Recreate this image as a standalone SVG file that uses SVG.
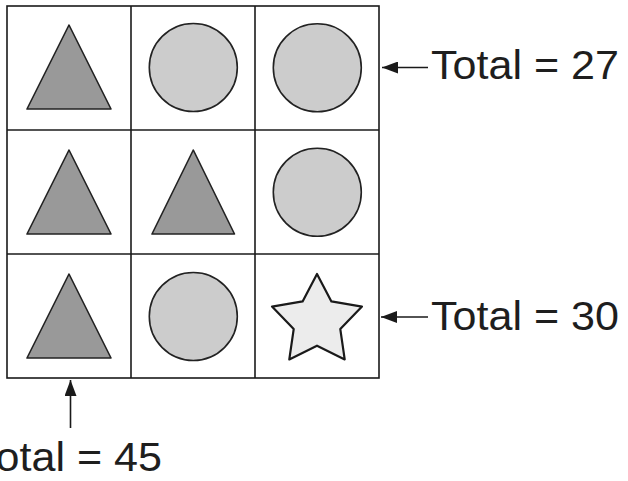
<svg xmlns="http://www.w3.org/2000/svg" width="628" height="481" viewBox="0 0 628 481">
<style>
.grid{fill:none;stroke:#1a1a1a;stroke-width:1.6}
.tri{fill:#999999;stroke:#222;stroke-width:1.6;stroke-linejoin:round}
.circ{fill:#cccccc;stroke:#222;stroke-width:1.6}
.star{fill:#ececec;stroke:#1a1a1a;stroke-width:2.2;stroke-linejoin:round}
.conn{stroke:#1a1a1a;stroke-width:1.6;fill:none}
.lbl{font-family:"Liberation Sans",Arial,sans-serif;font-size:41px;fill:#1e1e1e}
</style>
<defs>
<marker id="ah" markerWidth="16" markerHeight="12" refX="16" refY="6" orient="auto" markerUnits="userSpaceOnUse">
<path d="M0,0 L16,6 L0,12 Z" fill="#1a1a1a"/>
</marker>
</defs>
<g id="grid">
<rect class="grid" x="7" y="6" width="372" height="372"/>
<line class="grid" x1="131" y1="6" x2="131" y2="378"/>
<line class="grid" x1="255" y1="6" x2="255" y2="378"/>
<line class="grid" x1="7" y1="130" x2="379" y2="130"/>
<line class="grid" x1="7" y1="254" x2="379" y2="254"/>
</g>
<g id="r1c1"><polygon class="tri" points="69,25 27,109 111,109"/></g>
<g id="r1c2"><circle class="circ" cx="193.3" cy="67.5" r="44"/></g>
<g id="r1c3"><circle class="circ" cx="317.3" cy="67.7" r="44"/></g>
<g id="r2c1"><polygon class="tri" points="69,150 27,234 111,234"/></g>
<g id="r2c2"><polygon class="tri" points="193.3,150 152,234 234.5,234"/></g>
<g id="r2c3"><circle class="circ" cx="317.3" cy="192.3" r="44"/></g>
<g id="r3c1"><polygon class="tri" points="69,274 27,358 111,358"/></g>
<g id="r3c2"><circle class="circ" cx="193.3" cy="316.5" r="44"/></g>
<g id="r3c3"><polygon class="star" points="317,274 331.4,301.4 362,306.6 340.3,329.1 344.7,359.4 317,345.7 289.3,359.4 293.7,329.1 272,306.6 302.6,301.4"/></g>
<g id="connectors">
<line class="conn" x1="428" y1="67.5" x2="382" y2="67.5" marker-end="url(#ah)"/>
<line class="conn" x1="428" y1="317" x2="381" y2="317" marker-end="url(#ah)"/>
<line class="conn" x1="70.5" y1="428" x2="70.5" y2="380" marker-end="url(#ah)"/>
</g>
<g id="labels">
<text class="lbl" x="431" y="79" textLength="188" lengthAdjust="spacingAndGlyphs">Total = 27</text>
<text class="lbl" x="431" y="330" textLength="188" lengthAdjust="spacingAndGlyphs">Total = 30</text>
<text class="lbl" x="-26" y="471" textLength="188" lengthAdjust="spacingAndGlyphs">Total = 45</text>
</g>
</svg>
